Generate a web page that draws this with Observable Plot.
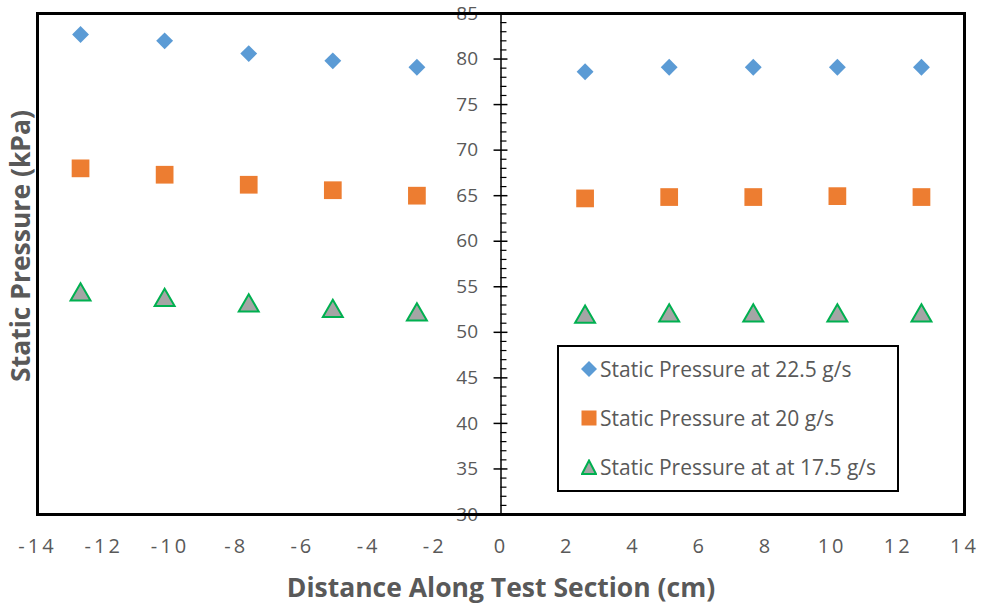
<!DOCTYPE html>
<html>
<head>
<meta charset="utf-8">
<script src="https://cdn.jsdelivr.net/npm/d3@7"></script>
<script src="https://cdn.jsdelivr.net/npm/@observablehq/plot@0.6"></script>
<style>
  html, body { margin: 0; padding: 0; background: #fff; }
  #wrap { position: relative; width: 981px; height: 608px; font-family: "Open Sans", sans-serif; }
  .chart g[aria-label="x-axis tick label"] text { letter-spacing: 3px; }
  #legend { position: absolute; left: 557px; top: 345px; width: 338px; height: 143px;
    border: 2.5px solid #000; background: #fff; box-sizing: content-box; }
  #legend .item { position: absolute; left: 22px; display: flex; align-items: center;
    font-size: 21px; color: #595959; font-family: "Open Sans", sans-serif; }
  #legend svg { margin-right: 3px; }
</style>
</head>
<body>
<div id="wrap"></div>
<script>
const distance = [-12.7, -10.16, -7.62, -5.08, -2.54, 2.54, 5.08, 7.62, 10.16, 12.7];
const p225 = [82.7, 82.0, 80.6, 79.8, 79.1, 78.6, 79.1, 79.1, 79.1, 79.1];
const p200 = [68.0, 67.3, 66.2, 65.6, 65.0, 64.7, 64.85, 64.85, 64.95, 64.85];
const p175 = [54.4, 53.8, 53.2, 52.6, 52.2, 51.95, 52.1, 52.1, 52.1, 52.1];
const seriesNames = ["Static Pressure at 22.5 g/s", "Static Pressure at 20 g/s", "Static Pressure at at 17.5 g/s"];
const xTicks = d3.range(-14, 15, 2);
const yTicks = d3.range(30, 86, 5);
const yMinor = d3.range(30, 86, 1).filter(v => v % 5 !== 0);
const xTitle = "Distance Along Test Section (cm)";
const yTitle = "Static Pressure (kPa)";

const colors = { blue: "#5B9BD5", orange: "#ED7D31", gray: "#A5A5A5", green: "#00B050" };
const rows = (vals) => distance.map((x, i) => ({ x, y: vals[i] }));

const chart = Plot.plot({
  className: "chart",
  width: 981,
  height: 608,
  marginLeft: 37,
  marginRight: 17,
  marginTop: 13,
  marginBottom: 94,
  style: { fontFamily: "'Open Sans', sans-serif", color: "#595959", background: "#fff" },
  x: { domain: [-14, 14], ticks: xTicks },
  y: { domain: [30, 85] },
  marks: [
    Plot.axisX(xTicks, { tickSize: 0, tickPadding: 24, fontSize: 20, fill: "#595959", label: null, tickFormat: d => String(d) }),
    Plot.axisY({ ticks: [], label: null }),
    // central y axis
    Plot.ruleX([0], { stroke: "#000", strokeWidth: 1.5 }),
    Plot.ruleY(yTicks, { y: d => d, x1: -0.21, x2: 0.21, stroke: "#000", strokeWidth: 1.5 }),
    Plot.ruleY(yMinor, { y: d => d, x1: 0, x2: 0.18, stroke: "#000", strokeWidth: 1.2 }),
    Plot.text(yTicks, { x: 0, y: d => d, text: d => String(d), dx: -23, textAnchor: "end", fontSize: 19, fill: "#595959" }),
    // series
    Plot.dot(rows(p225), { x: "x", y: "y", symbol: "diamond2", r: 7.6, fill: colors.blue, stroke: "none" }),
    Plot.dot(rows(p200), { x: "x", y: "y", symbol: "square", r: 10, fill: colors.orange, stroke: "none" }),
    Plot.dot(rows(p175), { x: "x", y: "y", symbol: "triangle", r: 7.4, dy: 2.5, fill: colors.gray, stroke: colors.green, strokeWidth: 2 }),
    Plot.frame({ stroke: "#000", strokeWidth: 3 }),
    // titles
    Plot.text([xTitle], { frameAnchor: "bottom", dy: 82, fontSize: 26.5, fontWeight: "bold", fill: "#595959" }),
    Plot.text([yTitle], { frameAnchor: "left", textAnchor: "middle", dx: -16, dy: -18, rotate: -90, fontSize: 26.5, fontWeight: "bold", fill: "#595959" })
  ]
});
const wrap = document.getElementById("wrap");
wrap.appendChild(chart);

// legend
const legend = document.createElement("div");
legend.id = "legend";
const symPaths = [
  `<path d="M8,0 L16,8 L8,16 L0,8 Z" fill="${colors.blue}"/>`,
  `<rect x="0.5" y="0.5" width="15" height="15" fill="${colors.orange}"/>`,
  `<path d="M8,1.5 L15,15 L1,15 Z" fill="${colors.gray}" stroke="${colors.green}" stroke-width="2"/>`
];
const tops = [8, 57, 106];
seriesNames.forEach((name, i) => {
  const it = document.createElement("div");
  it.className = "item";
  it.style.top = tops[i] + "px";
  it.innerHTML = `<svg width="16" height="16" viewBox="0 0 16 16">${symPaths[i]}</svg><span>${name}</span>`;
  legend.appendChild(it);
});
wrap.appendChild(legend);
</script>
</body>
</html>
